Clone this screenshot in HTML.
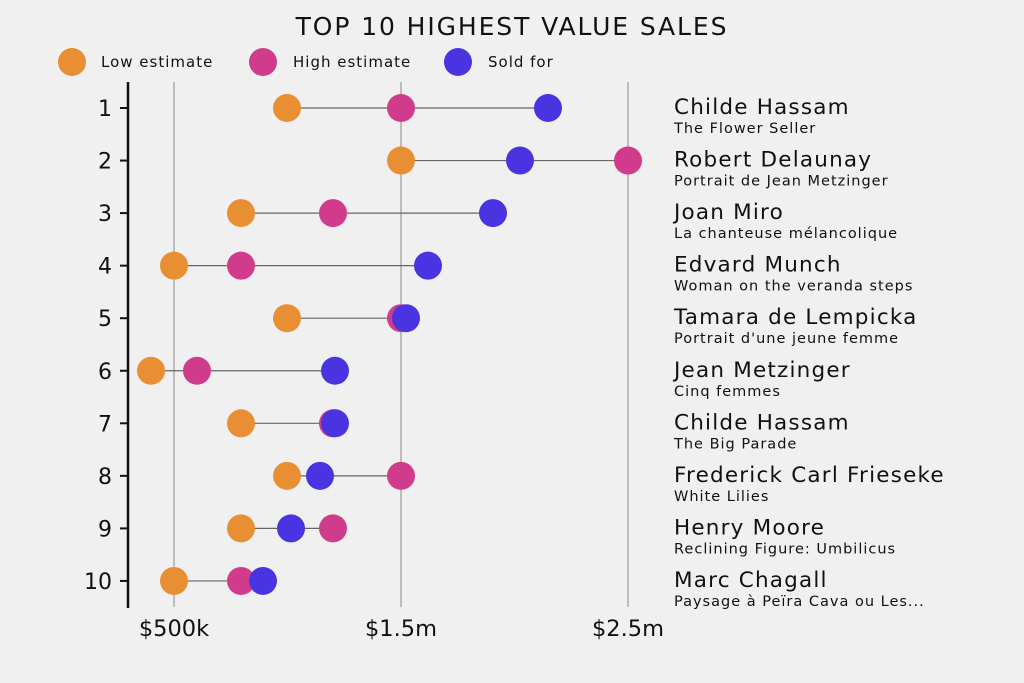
<!DOCTYPE html>
<html><head><meta charset="utf-8"><style>
body{margin:0;background:#f0f0f0}
svg{display:block}
text{font-family:"DejaVu Sans","Liberation Sans",sans-serif;fill:#111}
</style></head><body>
<svg width="1024" height="683" viewBox="0 0 1024 683">
<rect width="1024" height="683" fill="#f0f0f0"/>
<text x="512" y="35" text-anchor="middle" font-size="25" letter-spacing="1.9">TOP 10 HIGHEST VALUE SALES</text>
<circle cx="72" cy="62" r="14" fill="#e88f33"/><text x="101" y="67" font-size="15" letter-spacing="1">Low estimate</text>
<circle cx="263" cy="62" r="14" fill="#d03c8b"/><text x="293" y="67" font-size="15" letter-spacing="1">High estimate</text>
<circle cx="458" cy="62" r="14" fill="#4a33e0"/><text x="488" y="67" font-size="15" letter-spacing="1">Sold for</text>
<g stroke="#aaa" stroke-width="1.5">
<line x1="174" y1="82" x2="174" y2="607"/><line x1="401" y1="82" x2="401" y2="607"/><line x1="628" y1="82" x2="628" y2="607"/>
</g>
<line x1="128" y1="82" x2="128" y2="608" stroke="#111" stroke-width="2.5"/>
<g font-size="22.5" text-anchor="middle">
<text x="174" y="636">$500k</text><text x="401" y="636">$1.5m</text><text x="628" y="636">$2.5m</text>
</g>
<g id="rows"></g>
</svg>
<script>
const d=[
[287,401,548,"Childe Hassam","The Flower Seller"],
[401,628,520,"Robert Delaunay","Portrait de Jean Metzinger"],
[241,333,493,"Joan Miro","La chanteuse mélancolique"],
[174,241,428,"Edvard Munch","Woman on the veranda steps"],
[287,401,406,"Tamara de Lempicka","Portrait d'une jeune femme"],
[151,197,335,"Jean Metzinger","Cinq femmes"],
[241,333,335,"Childe Hassam","The Big Parade"],
[287,401,320,"Frederick Carl Frieseke","White Lilies"],
[241,333,291,"Henry Moore","Reclining Figure: Umbilicus"],
[174,241,263,"Marc Chagall","Paysage à Peïra Cava ou Les..."]];
let s="";
d.forEach((r,i)=>{const y=108+i*52.55;const mn=Math.min(r[0],r[1],r[2]),mx=Math.max(r[0],r[1],r[2]);
s+=`<line x1="120" y1="${y}" x2="128" y2="${y}" stroke="#111" stroke-width="2"/>`;
s+=`<text x="112" y="${y+8}" font-size="22" text-anchor="end">${i+1}</text>`;
s+=`<line x1="${mn}" y1="${y}" x2="${mx}" y2="${y}" stroke="#666" stroke-width="1.2"/>`;
s+=`<circle cx="${r[0]}" cy="${y}" r="14" fill="#e88f33"/><circle cx="${r[1]}" cy="${y}" r="14" fill="#d03c8b"/><circle cx="${r[2]}" cy="${y}" r="14" fill="#4a33e0"/>`;
s+=`<text x="674" y="${y+6}" font-size="21.5" letter-spacing="1.2">${r[3]}</text><text x="674" y="${y+25}" font-size="14.5" letter-spacing="1">${r[4]}</text>`;});
document.getElementById("rows").innerHTML=s;
</script>
</body></html>
